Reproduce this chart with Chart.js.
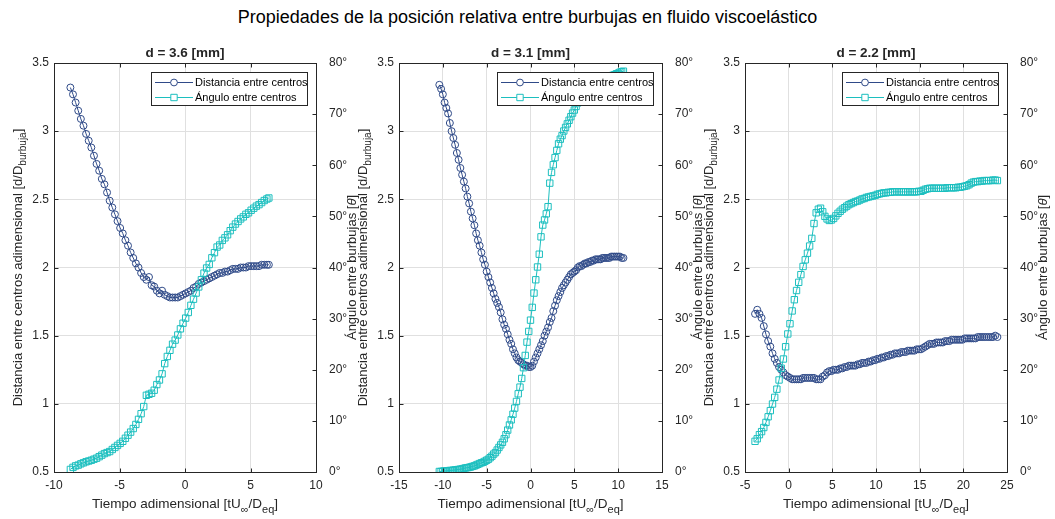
<!DOCTYPE html>
<html>
<head>
<meta charset="utf-8">
<script src="https://cdn.jsdelivr.net/npm/chart.js@4.4.1/dist/chart.umd.min.js"></script>
<style>
    body { margin: 0; background: #fff; }
    #wrap { position: relative; width: 1055px; height: 519px; overflow: hidden; }
    #wrap canvas { position: absolute; left: 0; top: 0; }
    #suptitle { position: absolute; left: 0; top: 5px; width: 1055px; text-align: center;
                font: 18px "Liberation Sans", Arial, sans-serif; line-height: 24px; color: #000; }
</style>
</head>
<body>
<div id="wrap">
    <div id="suptitle">Propiedades de la posición relativa entre burbujas en fluido viscoelástico</div>
    <canvas id="c1" width="1055" height="519"></canvas>
    <canvas id="c2" width="1055" height="519"></canvas>
    <canvas id="c3" width="1055" height="519"></canvas>
</div>

<script>
    /*
     * Data
     */
    // d = 3.6 mm
    const t1 = [-8.75,-8.55,-8.35,-8.15,-7.95,-7.75,-7.55,-7.35,-7.15,-6.95,
                -6.75,-6.55,-6.35,-6.15,-5.95,-5.75,-5.55,-5.35,-5.15,-4.95,
                -4.75,-4.55,-4.35,-4.15,-3.95,-3.75,-3.55,-3.35,-3.15,-2.95,
                -2.75,-2.55,-2.35,-2.15,-1.95,-1.75,-1.55,-1.35,-1.15,-0.95,
                -0.75,-0.55,-0.35,-0.15,0.05,0.25,0.45,0.65,0.85,1.05,
                1.25,1.45,1.65,1.85,2.05,2.25,2.45,2.65,2.85,3.05,
                3.25,3.45,3.65,3.85,4.05,4.25,4.45,4.65,4.85,5.05,
                5.25,5.45,5.65,5.85,6.05,6.25,6.4];
    const dist1 = [3.32,3.27,3.21,3.15,3.09,3.04,2.98,2.93,2.88,2.82,
                   2.76,2.71,2.65,2.61,2.55,2.49,2.44,2.39,2.34,2.29,
                   2.25,2.20,2.16,2.11,2.07,2.03,2.00,1.96,1.93,1.91,
                   1.93,1.87,1.86,1.83,1.81,1.83,1.80,1.79,1.78,1.78,
                   1.78,1.78,1.79,1.80,1.81,1.82,1.83,1.85,1.86,1.88,
                   1.89,1.90,1.91,1.92,1.93,1.94,1.95,1.96,1.96,1.97,
                   1.97,1.98,1.99,1.99,1.99,2.00,2.00,2.00,2.01,2.01,
                   2.01,2.01,2.01,2.02,2.02,2.02,2.02];
    const ang1 = [0.5,0.9,1.2,1.35,1.6,1.8,2.0,2.15,2.3,2.5,
                  2.7,3.0,3.3,3.6,3.8,4.0,4.4,4.8,5.2,5.6,
                  6.0,6.6,7.2,7.8,8.5,9.3,10.3,11.4,12.8,15.0,
                  15.2,15.4,16.0,17.1,18.0,19.2,21.2,22.6,23.8,25.0,
                  25.8,26.8,28.0,29.1,30.1,31.2,32.6,33.8,35.0,36.2,
                  37.6,38.9,39.9,40.6,41.9,42.9,44.0,44.4,45.3,45.8,
                  46.4,47.2,47.9,48.5,49.0,49.5,49.9,50.4,50.7,51.2,
                  51.6,52.0,52.3,52.7,53.1,53.4,53.6];

    // d = 3.1 mm
    const t2 = [-10.4,-10.2,-10.0,-9.8,-9.6,-9.4,-9.2,-9.0,-8.8,-8.6,
                -8.4,-8.2,-8.0,-7.8,-7.6,-7.4,-7.2,-7.0,-6.8,-6.6,
                -6.4,-6.2,-6.0,-5.8,-5.6,-5.4,-5.2,-5.0,-4.8,-4.6,
                -4.4,-4.2,-4.0,-3.8,-3.6,-3.4,-3.2,-3.0,-2.8,-2.6,
                -2.4,-2.2,-2.0,-1.8,-1.6,-1.4,-1.2,-1.0,-0.8,-0.6,
                -0.4,-0.2,0.0,0.2,0.4,0.6,0.8,1.0,1.2,1.4,
                1.6,1.8,2.0,2.2,2.4,2.6,2.8,3.0,3.2,3.4,
                3.6,3.8,4.0,4.2,4.4,4.6,4.8,5.0,5.2,5.4,
                5.6,5.8,6.0,6.2,6.4,6.6,6.8,7.0,7.2,7.4,
                7.6,7.8,8.0,8.2,8.4,8.6,8.8,9.0,9.2,9.4,
                9.6,9.8,10.0,10.2,10.4,10.6];
    const dist2 = [3.34,3.31,3.27,3.21,3.17,3.13,3.06,3.00,2.95,2.90,
                   2.84,2.79,2.73,2.68,2.63,2.58,2.52,2.47,2.41,2.36,
                   2.31,2.25,2.20,2.16,2.11,2.06,2.02,1.97,1.93,1.89,
                   1.85,1.81,1.77,1.74,1.71,1.67,1.62,1.58,1.55,1.51,
                   1.47,1.44,1.40,1.37,1.34,1.32,1.31,1.30,1.29,1.28,
                   1.28,1.27,1.27,1.28,1.31,1.34,1.37,1.40,1.43,1.46,
                   1.50,1.53,1.56,1.60,1.63,1.68,1.72,1.76,1.79,1.82,
                   1.85,1.87,1.89,1.91,1.93,1.95,1.96,1.97,1.98,2.00,
                   2.01,2.01,2.02,2.03,2.03,2.04,2.04,2.05,2.05,2.06,
                   2.06,2.06,2.06,2.07,2.07,2.07,2.07,2.07,2.08,2.08,
                   2.08,2.08,2.08,2.08,2.07,2.07];
    const ang2 = [0.1,0.1,0.15,0.2,0.2,0.25,0.3,0.3,0.35,0.4,
                  0.45,0.5,0.55,0.6,0.7,0.8,0.85,0.9,1.0,1.1,
                  1.2,1.35,1.5,1.65,1.8,1.9,2.1,2.3,2.5,2.8,
                  3.1,3.5,3.8,4.3,4.8,5.3,5.8,6.5,7.3,8.2,
                  9.2,10.2,11.3,12.5,13.8,15.3,16.6,18.3,20.4,22.8,
                  25.4,27.5,29.7,32.2,35.0,37.6,40.1,42.6,46.0,48.3,
                  49.3,50.5,51.9,56.5,58.6,60.1,61.5,62.9,64.2,65.1,
                  65.8,66.7,67.4,68.1,68.8,69.5,70.2,70.8,71.5,72.2,
                  72.7,73.1,73.5,73.8,74.1,74.4,74.7,75.0,75.2,75.5,
                  75.7,76.0,76.2,76.4,76.6,76.8,77.0,77.2,77.4,77.6,
                  77.7,77.9,78.0,78.2,78.3,78.4];

    // d = 2.2 mm
    const t3 = [-3.85,-3.6,-3.35,-3.1,-2.85,-2.6,-2.35,-2.1,-1.85,-1.6,
                -1.35,-1.1,-0.85,-0.6,-0.35,-0.1,0.15,0.4,0.65,0.9,
                1.15,1.4,1.65,1.9,2.15,2.4,2.65,2.9,3.15,3.4,
                3.65,3.9,4.15,4.4,4.65,4.9,5.15,5.4,5.65,5.9,
                6.15,6.4,6.65,6.9,7.15,7.4,7.65,7.9,8.15,8.4,
                8.65,8.9,9.15,9.4,9.65,9.9,10.15,10.4,10.65,10.9,
                11.15,11.4,11.65,11.9,12.15,12.4,12.65,12.9,13.15,13.4,
                13.65,13.9,14.15,14.4,14.65,14.9,15.15,15.4,15.65,15.9,
                16.15,16.4,16.65,16.9,17.15,17.4,17.65,17.9,18.15,18.4,
                18.65,18.9,19.15,19.4,19.65,19.9,20.15,20.4,20.65,20.9,
                21.15,21.4,21.65,21.9,22.15,22.4,22.65,22.9,23.15,23.4,
                23.65,23.9];
    const dist3 = [1.66,1.69,1.66,1.63,1.57,1.51,1.46,1.42,1.37,1.33,
                   1.30,1.27,1.25,1.23,1.21,1.20,1.19,1.18,1.18,1.18,
                   1.18,1.18,1.19,1.19,1.19,1.19,1.19,1.19,1.18,1.18,
                   1.18,1.20,1.21,1.23,1.24,1.24,1.25,1.25,1.25,1.26,
                   1.26,1.27,1.27,1.28,1.28,1.28,1.28,1.29,1.29,1.30,
                   1.30,1.30,1.31,1.31,1.32,1.32,1.33,1.33,1.34,1.34,
                   1.35,1.35,1.36,1.36,1.37,1.37,1.37,1.38,1.38,1.38,
                   1.39,1.39,1.39,1.39,1.40,1.40,1.40,1.41,1.42,1.43,
                   1.44,1.44,1.44,1.45,1.45,1.45,1.45,1.46,1.46,1.46,
                   1.47,1.47,1.47,1.47,1.47,1.47,1.48,1.48,1.48,1.48,
                   1.48,1.48,1.49,1.49,1.49,1.49,1.49,1.49,1.49,1.49,
                   1.50,1.49];
    const ang3 = [6.0,6.5,7.3,7.9,8.7,9.7,10.8,12.0,13.3,14.6,
                  16.2,18.0,20.3,22.1,24.5,27.0,29.0,31.5,33.7,35.5,
                  37.1,38.6,40.2,41.5,42.8,44.2,45.7,48.6,50.7,51.4,
                  51.6,50.9,50.0,49.5,49.2,49.3,49.6,50.1,50.6,51.0,
                  51.4,51.7,52.0,52.3,52.5,52.7,52.9,53.0,53.2,53.4,
                  53.5,53.7,53.8,53.9,54.0,54.1,54.3,54.4,54.5,54.6,
                  54.6,54.7,54.7,54.8,54.8,54.8,54.8,54.8,54.8,54.8,
                  54.8,54.8,54.8,54.8,54.8,54.9,54.9,55.1,55.3,55.4,
                  55.5,55.5,55.5,55.5,55.5,55.5,55.5,55.5,55.6,55.6,
                  55.6,55.6,55.6,55.7,55.7,55.8,55.9,56.0,56.2,56.5,
                  56.7,56.8,56.8,56.9,56.9,57.0,57.0,57.0,57.0,57.1,
                  57.1,57.0];

    const distTicks = [0.5, 1, 1.5, 2, 2.5, 3, 3.5];
    const angTicks = [0, 10, 20, 30, 40, 50, 60, 70, 80];

    /*
     * Look
     */
    const FONT = '"Liberation Sans", Arial, Helvetica, sans-serif';
    const INK = '#262626';
    const GRID = '#e0e0e0';
    const NAVY = '#2f4a88';
    const CYAN = '#1cbfbf';
    const TOP = 63, BOTTOM = 472, W = 1055, H = 519;

    const panels = [
        { id: 'c1', title: 'd = 3.6 [mm]', t: t1, dist: dist1, ang: ang1, xMin: -10, xMax: 10, left: 54, right: 316 },
        { id: 'c2', title: 'd = 3.1 [mm]', t: t2, dist: dist2, ang: ang2, xMin: -15, xMax: 15, left: 399, right: 662 },
        { id: 'c3', title: 'd = 2.2 [mm]', t: t3, dist: dist3, ang: ang3, xMin: -5, xMax: 25, left: 745, right: 1007 },
    ];

    function pairs(xs, ys) {
        return xs.map((x, i) => ({ x: x, y: ys[i] }));
    }

    // text with sub-scripts, centred on (x, y)
    function richText(ctx, parts, x, y, size, angle, baseline) {
        const fontOf = p => (p.italic ? 'italic ' : '') + (p.bold ? 'bold ' : '') +
            (p.sub ? Math.round(size * 0.8) : size) + 'px ' + FONT;
        ctx.save();
        ctx.translate(x, y);
        ctx.rotate(angle);
        ctx.textAlign = 'left';
        ctx.textBaseline = baseline;
        ctx.fillStyle = INK;
        let w = 0;
        for (const p of parts) { ctx.font = fontOf(p); w += ctx.measureText(p.s).width; }
        let cx = -w / 2;
        for (const p of parts) {
            ctx.font = fontOf(p);
            ctx.fillText(p.s, cx, p.sub ? size * 0.38 : 0);
            cx += ctx.measureText(p.s).width;
        }
        ctx.restore();
    }

    const Y_LEFT = [{ s: 'Distancia entre centros adimensional [d/D' }, { s: 'burbuja', sub: true }, { s: ']' }];
    const Y_RIGHT = [{ s: 'Ángulo entre burbujas [' }, { s: 'θ', italic: true }, { s: ']' }];
    const X_TITLE = [{ s: 'Tiempo adimensional [tU' }, { s: '∞', sub: true }, { s: '/D' }, { s: 'eq', sub: true }, { s: ']' }];

    const decor = {
        id: 'decor',
        afterDatasetsDraw(chart, args, opts) {
            const ctx = chart.ctx;
            const a = chart.chartArea;
            const xs = chart.scales.x;
            ctx.save();

            // box and inward ticks
            ctx.strokeStyle = INK;
            ctx.lineWidth = 1;
            const L = Math.round(a.left) + 0.5, R = Math.round(a.right) + 0.5;
            const T = Math.round(a.top) + 0.5, B = Math.round(a.bottom) + 0.5;
            ctx.strokeRect(L, T, R - L, B - T);
            ctx.beginPath();
            xs.ticks.forEach(tk => {
                const px = Math.round(xs.getPixelForValue(tk.value)) + 0.5;
                ctx.moveTo(px, B); ctx.lineTo(px, B - 4);
                ctx.moveTo(px, T); ctx.lineTo(px, T + 4);
            });
            distTicks.forEach(v => {
                const py = Math.round(chart.scales.y.getPixelForValue(v)) + 0.5;
                ctx.moveTo(L, py); ctx.lineTo(L + 4, py);
            });
            angTicks.forEach(v => {
                const py = Math.round(chart.scales.y2.getPixelForValue(v)) + 0.5;
                ctx.moveTo(R, py); ctx.lineTo(R - 4, py);
            });
            ctx.stroke();

            // legend
            const lw = 156, lh = 33;
            const lx = Math.round(a.right) - 9 - lw, ly = Math.round(a.top) + 9;
            ctx.fillStyle = '#fff';
            ctx.fillRect(lx, ly, lw, lh);
            ctx.strokeStyle = INK;
            ctx.strokeRect(lx + 0.5, ly + 0.5, lw, lh);
            const rows = [
                { label: 'Distancia entre centros', color: NAVY, style: 'circle' },
                { label: 'Ángulo entre centros', color: CYAN, style: 'rect' },
            ];
            rows.forEach((r, i) => {
                const ry = ly + 10.5 + i * 15;
                ctx.strokeStyle = r.color;
                ctx.lineWidth = 1;
                ctx.beginPath();
                ctx.moveTo(lx + 4, ry); ctx.lineTo(lx + 42, ry);
                ctx.stroke();
                ctx.beginPath();
                if (r.style === 'circle') ctx.arc(lx + 23, ry, 3.4, 0, Math.PI * 2);
                else ctx.rect(lx + 23 - 3.2, ry - 3.2, 6.4, 6.4);
                ctx.fillStyle = '#fff';
                ctx.fill();
                ctx.stroke();
                ctx.fillStyle = '#000';
                ctx.font = '11px ' + FONT;
                ctx.textAlign = 'left';
                ctx.textBaseline = 'middle';
                ctx.fillText(r.label, lx + 44, ry + 0.5);
            });
            ctx.restore();

            // titles
            const midX = (a.left + a.right) / 2, midY = (a.top + a.bottom) / 2;
            richText(ctx, [{ s: opts.title, bold: true }], midX, 57, 13.5, 0, 'alphabetic');
            richText(ctx, X_TITLE, midX, 508, 13.5, 0, 'alphabetic');
            richText(ctx, Y_LEFT, a.left - 36, midY, 13, -Math.PI / 2, 'middle');
            richText(ctx, Y_RIGHT, a.right + 36, midY, 13, -Math.PI / 2, 'middle');
        }
    };

    panels.forEach(p => {
        new Chart(document.getElementById(p.id), {
            type: 'line',
            data: {
                datasets: [
                    {
                        label: 'Ángulo entre centros',
                        data: pairs(p.t, p.ang),
                        yAxisID: 'y2',
                        borderColor: CYAN,
                        borderWidth: 1,
                        pointStyle: 'rect',
                        pointRadius: 4.5,
                        pointBorderWidth: 1,
                        pointBorderColor: CYAN,
                        pointBackgroundColor: 'rgba(0,0,0,0)',
                        tension: 0,
                        order: 1
                    },
                    {
                        label: 'Distancia entre centros',
                        data: pairs(p.t, p.dist),
                        yAxisID: 'y',
                        borderColor: NAVY,
                        borderWidth: 1,
                        pointStyle: 'circle',
                        pointRadius: 3.5,
                        pointBorderWidth: 1,
                        pointBorderColor: NAVY,
                        pointBackgroundColor: 'rgba(0,0,0,0)',
                        tension: 0,
                        order: 2
                    }
                ]
            },
            options: {
                responsive: false,
                animation: false,
                devicePixelRatio: 1,
                events: [],
                layout: { padding: { left: p.left - 40, right: W - p.right - 40, top: TOP, bottom: H - BOTTOM - 30 } },
                plugins: {
                    legend: { display: false },
                    tooltip: { enabled: false },
                    title: { display: false },
                    decor: { title: p.title }
                },
                scales: {
                    x: {
                        type: 'linear', min: p.xMin, max: p.xMax,
                        afterFit: s => { s.height = 30; },
                        ticks: { stepSize: 5, padding: 6, color: INK, font: { family: FONT, size: 12 } },
                        grid: { color: GRID, drawTicks: false },
                        border: { display: false }
                    },
                    y: {
                        position: 'left', min: 0.5, max: 3.5,
                        afterFit: s => { s.width = 40; },
                        ticks: { stepSize: 0.5, padding: 5, color: INK, font: { family: FONT, size: 12 },
                                 callback: v => String(Math.round(v * 10) / 10) },
                        grid: { color: GRID, drawTicks: false },
                        border: { display: false }
                    },
                    y2: {
                        position: 'right', min: 0, max: 80,
                        afterFit: s => { s.width = 40; },
                        ticks: { stepSize: 10, padding: 5, color: INK, font: { family: FONT, size: 12 },
                                 callback: v => v + '°' },
                        grid: { display: false },
                        border: { display: false }
                    }
                }
            },
            plugins: [decor]
        });
    });
</script>
</body>
</html>
